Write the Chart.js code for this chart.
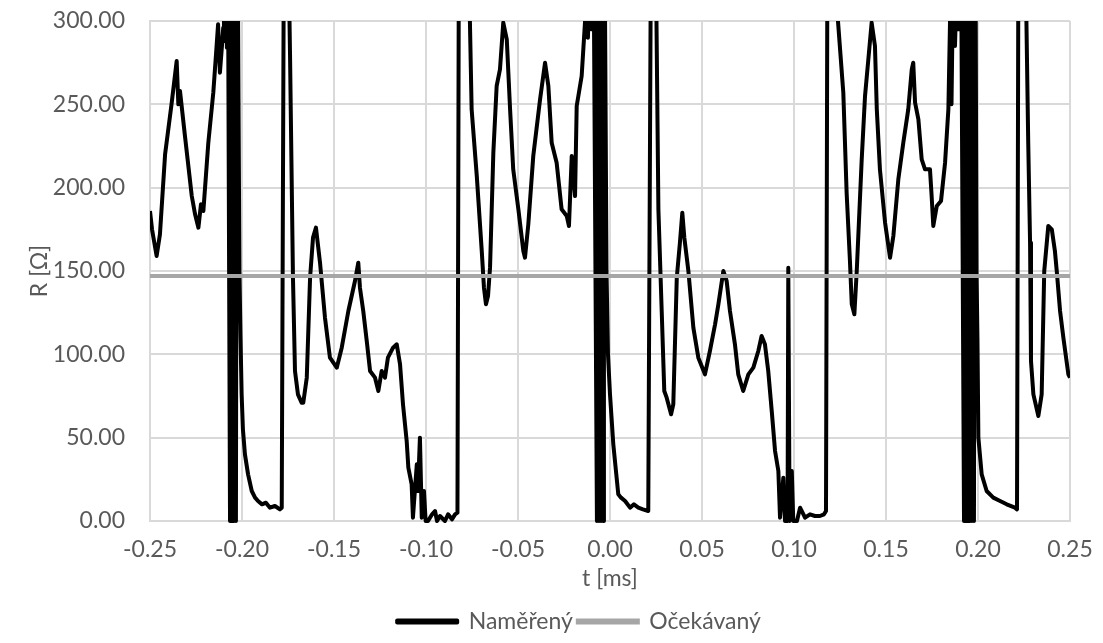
<!DOCTYPE html>
<html lang="cs">
<head>
<meta charset="utf-8">
<title>R(t)</title>
<script src="https://cdn.jsdelivr.net/npm/chart.js@4.4.1/dist/chart.umd.min.js"></script>
<style>
  html, body { margin: 0; padding: 0; background: #fff; }
  #wrap { width: 1103px; height: 643px; }
</style>
</head>
<body>
<div id="wrap"><canvas id="chart" width="1103" height="643"></canvas></div>
<script>
// measured resistance R [Ω] vs time t [ms]
const tMeasured = [
  -0.2500,-0.2489,-0.2464,-0.2446,-0.2418,-0.2382,-0.2370,-0.2355,-0.2346,-0.2337,
  -0.2310,-0.2273,-0.2255,-0.2237,-0.2223,-0.2210,-0.2183,-0.2156,-0.2138,-0.2130,
  -0.2120,-0.2109,-0.2102,-0.2098,-0.2092,-0.2087,-0.2082,-0.2076,
  -0.2065,-0.2060,-0.2054,-0.2049,-0.2043,-0.2038,-0.2033,-0.2027,
  -0.2014,-0.2008,-0.2002,-0.1995,-0.1984,-0.1967,-0.1947,-0.1929,-0.1913,-0.1891,
  -0.1870,-0.1848,-0.1821,-0.1794,-0.1784,
  -0.1772,-0.1750,-0.1739,-0.1723,-0.1712,-0.1696,-0.1676,-0.1667,-0.1648,-0.1630,
  -0.1614,-0.1598,-0.1576,-0.1549,-0.1522,-0.1485,-0.1458,-0.1422,-0.1386,-0.1368,
  -0.1359,-0.1341,-0.1322,-0.1304,-0.1277,-0.1259,-0.1241,-0.1223,-0.1207,-0.1179,
  -0.1159,-0.1141,-0.1125,-0.1105,-0.1096,-0.1078,-0.1071,-0.1050,-0.1044,-0.1033,
  -0.1023,-0.1011,-0.1002,-0.0989,-0.0967,-0.0951,-0.0940,-0.0924,-0.0897,-0.0880,
  -0.0859,-0.0842,-0.0829,
  -0.0821,-0.0772,-0.0752,-0.0724,-0.0697,-0.0685,-0.0674,-0.0663,-0.0652,-0.0634,
  -0.0616,-0.0598,-0.0580,-0.0561,-0.0543,-0.0526,-0.0498,-0.0471,-0.0462,-0.0444,
  -0.0417,-0.0380,-0.0353,-0.0335,-0.0317,-0.0290,-0.0263,-0.0235,-0.0223,-0.0208,
  -0.0190,-0.0181,-0.0154,-0.0136,
  -0.0125,-0.0120,-0.0109,-0.0103,-0.0092,-0.0087,
  -0.0071,-0.0065,-0.0060,-0.0054,-0.0049,-0.0043,-0.0038,-0.0033,
  -0.0019,-0.0011,0.0000,0.0018,0.0045,0.0060,0.0082,0.0109,0.0130,0.0154,
  0.0179,0.0208,
  0.0223,0.0247,0.0263,0.0281,0.0295,0.0308,0.0332,0.0344,0.0363,0.0380,
  0.0393,0.0404,0.0426,0.0453,0.0480,0.0516,0.0543,0.0571,0.0589,0.0616,
  0.0634,0.0652,0.0679,0.0697,0.0724,0.0752,0.0779,0.0806,0.0824,0.0842,
  0.0860,0.0879,0.0897,0.0915,0.0924,0.0942,0.0951,0.0965,0.0969,0.0976,
  0.0988,0.0996,0.1016,0.1033,0.1060,0.1087,0.1114,0.1141,0.1163,0.1174,
  0.1182,0.1228,0.1239,0.1268,0.1286,0.1304,0.1314,0.1328,0.1341,0.1368,
  0.1386,0.1404,0.1422,0.1440,0.1450,0.1467,0.1495,0.1522,0.1540,0.1567,
  0.1594,0.1621,0.1640,0.1648,0.1658,0.1676,0.1694,0.1712,0.1739,0.1748,
  0.1757,0.1776,0.1799,0.1821,0.1839,
  0.1848,0.1856,0.1864,0.1875,0.1886,0.1894,0.1902,0.1910,
  0.1924,0.1929,0.1935,0.1940,0.1946,0.1951,0.1957,0.1962,0.1967,0.1973,
  0.1978,0.1984,
  0.1992,0.1997,0.2002,0.2020,0.2047,0.2083,0.2120,0.2156,0.2201,0.2212,
  0.2220,0.2255,0.2273,0.2283,0.2288,0.2301,0.2328,0.2346,0.2360,0.2382,
  0.2401,0.2418,0.2428,0.2446,0.2464,0.2491,0.2500
];
const rMeasured = [
  186,175,159,172,220,251,262,276,250,258,
  231,195,184,176,190,186,227,257,285,298,
  269,285,296,315,288,320,284,330,
  0,420,0,420,0,420,0,420,
  150,110,76,55,40,28,18,14,12,10,
  11,8,9,7,8,
  360,360,280,146,90,76,71,71,86,146,
  170,176,155,122,98,92,104,126,144,155,
  140,126,108,90,86,78,90,86,98,104,
  106,94,70,48,32,22,2,34,18,50,
  2,18,0,0,4,6,0,3,0,4,
  1,4,5,
  360,360,247,207,162,140,130,135,152,221,
  261,271,299,289,247,211,187,162,158,178,
  219,253,275,261,227,215,187,183,177,219,
  195,249,267,299,
  320,290,330,295,330,300,
  0,420,0,420,0,420,0,420,
  150,100,76,46,16,14,12,8,10,8,
  7,6,
  360,360,187,126,78,74,64,70,146,167,
  185,170,150,116,98,88,102,118,130,150,
  144,126,106,88,78,88,92,102,111,106,
  90,66,42,30,2,26,0,0,152,0,
  30,0,0,8,2,4,3,3,4,6,
  360,360,300,257,197,156,130,124,150,217,
  255,277,299,285,247,211,179,158,171,205,
  227,247,271,275,251,241,217,211,211,195,
  177,189,192,215,247,
  300,250,320,285,330,295,330,300,
  0,420,0,420,0,420,0,420,0,420,
  0,420,
  150,110,50,28,18,14,12,10,8,7,
  360,360,227,167,96,76,63,76,150,177,
  175,162,150,126,110,88,86
];

// expected (constant) resistance
const tExpected = [-0.25, 0.25];
const rExpected = [147, 147];

const FONT = 'Lato, "Open Sans", sans-serif';
const TEXT = '#595959';
const GRID = '#d9d9d9';

function toPoints(xs, ys){
  return xs.map((x, i) => ({ x, y: ys[i] }));
}

// two decimals, no "-0.00"
const fmt = v => (Math.abs(v) < 1e-9 ? 0 : v).toFixed(2);

const font = { family: FONT, size: 23 };

// nudge the legend so it sits under the middle of the plot area
const legendShift = {
  id: 'legendShift',
  afterLayout(chart){
    const l = chart.legend;
    if (!l) return;
    l.left += 44; l.right += 44;
  }
};

new Chart(document.getElementById('chart'), {
  type: 'line',
  data: {
    datasets: [
      {
        label: 'Očekávaný',
        data: toPoints(tExpected, rExpected),
        borderColor: '#a6a6a6',
        backgroundColor: '#a6a6a6',
        borderWidth: 4,
        pointRadius: 0,
        fill: false
      },
      {
        label: 'Naměřený',
        data: toPoints(tMeasured, rMeasured),
        borderColor: '#000',
        backgroundColor: '#000',
        borderWidth: 4,
        borderJoinStyle: 'round',
        pointRadius: 0,
        fill: false,
        clip: { left: 0, top: 0, right: 0, bottom: 4 }
      }
    ]
  },
  options: {
    responsive: false,
    animation: false,
    layout: { padding: { left: 0, right: 33, top: 21, bottom: 0 } },
    scales: {
      x: {
        type: 'linear',
        min: -0.25,
        max: 0.25,
        ticks: { stepSize: 0.05, callback: fmt, color: TEXT, font, padding: 15, maxRotation: 0, autoSkip: false },
        grid: { color: GRID, lineWidth: 2, drawTicks: false },
        border: { color: GRID, width: 2 },
        title: { display: true, text: 't [ms]', color: TEXT, font, padding: { top: 0, bottom: 13 } },
        afterFit: s => {
          s.height = 84;
          s.paddingLeft = 0; s.paddingRight = 0;
        }
      },
      y: {
        min: 0,
        max: 300,
        ticks: { stepSize: 50, callback: fmt, color: TEXT, font, padding: 25 },
        grid: { color: GRID, lineWidth: 2, drawTicks: false },
        border: { color: GRID, width: 2 },
        title: { display: true, text: 'R [Ω]', color: TEXT, font, padding: { top: 26, bottom: 0 } },
        afterFit: s => {
          s.width = 150;
          s.paddingTop = 0; s.paddingBottom = 0;
        }
      }
    },
    plugins: {
      legend: {
        position: 'bottom',
        reverse: true,
        labels: { boxWidth: 60, boxHeight: 2, padding: 5, color: TEXT, font: { family: FONT, size: 23, lineHeight: 1 } }
      },
      tooltip: { enabled: false }
    }
  },
  plugins: [legendShift]
});
</script>
</body>
</html>
